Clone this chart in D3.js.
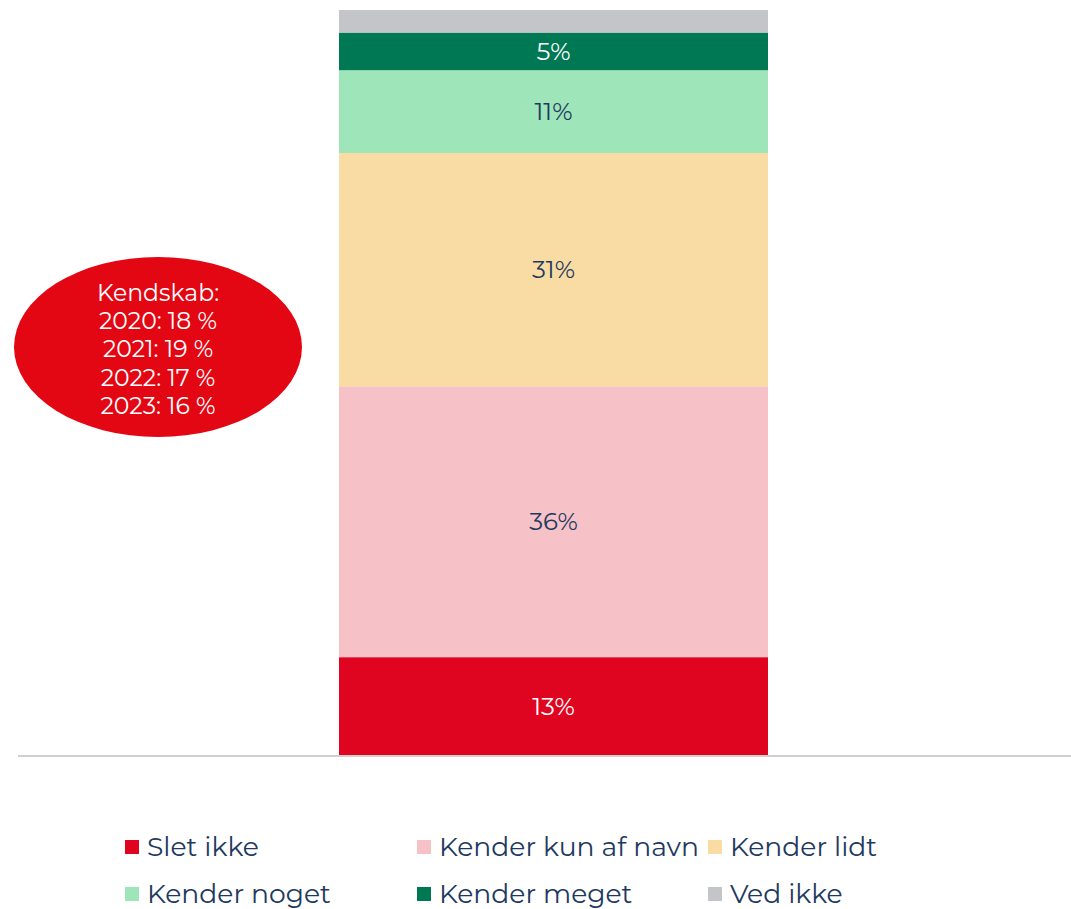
<!DOCTYPE html>
<meta charset="utf-8"/>
<title>Kendskab</title>
<style>
    body { margin: 0; background: #fff; }
    text { font-family: "Montserrat", "Noto Sans", sans-serif; }
</style>
<script src="https://cdn.jsdelivr.net/npm/d3@7"></script>
<svg id="chart" width="1071" height="909"></svg>
<script>
"use strict";

// data
const categories = ["Slet ikke", "Kender kun af navn", "Kender lidt", "Kender noget", "Kender meget", "Ved ikke"];
const values = [13, 36, 31, 11, 5, 3];
const colors = ["#df0521", "#f6c1c7", "#f9dca3", "#9ee5ba", "#007853", "#c4c5c9"];
const labelColors = ["#ffffff", "#1d3a5e", "#1d3a5e", "#1d3a5e", "#ffffff", "#1d3a5e"];
const showLabel = [true, true, true, true, true, false];
const noteLines = ["Kendskab:", "2020: 18 %", "2021: 19 %", "2022: 17 %", "2023: 16 %"];

const svg = d3.select("#chart");

const total = d3.sum(values);
const y = d3.scaleLinear().domain([0, total]).range([755, 10]);
const x = d3.scaleBand().domain(["bar"]).range([339, 768]).padding(0);

// stack the segments
const stacked = [];
let acc = 0;
values.forEach(function (v, i) {
    stacked.push({ name: categories[i], y0: acc, y1: acc + v, value: v, i: i });
    acc += v;
});

svg.append("g").selectAll("rect")
    .data(stacked)
    .join("rect")
    .attr("x", x("bar"))
    .attr("width", x.bandwidth())
    .attr("y", d => y(d.y1))
    .attr("height", d => y(d.y0) - y(d.y1))
    .attr("fill", d => colors[d.i]);

svg.append("g").selectAll("text")
    .data(stacked.filter(d => showLabel[d.i]))
    .join("text")
    .attr("x", x("bar") + x.bandwidth() / 2)
    .attr("y", d => (y(d.y0) + y(d.y1)) / 2)
    .attr("dy", "0.35em")
    .attr("text-anchor", "middle")
    .attr("font-size", 24.5)
    .attr("fill", d => labelColors[d.i])
    .text(d => d.value + "%");

// baseline
svg.append("line")
    .attr("x1", 18).attr("x2", 1071)
    .attr("y1", y(0) + 1).attr("y2", y(0) + 1)
    .attr("stroke", "#d0d0d0")
    .attr("stroke-width", 2);

// red note bubble
const note = svg.append("g").attr("transform", "translate(158,347)");
note.append("ellipse")
    .attr("rx", 144).attr("ry", 90)
    .attr("fill", "#e30613");
note.selectAll("text")
    .data(noteLines)
    .join("text")
    .attr("x", 0)
    .attr("y", (d, i) => (i - 2) * 28.3 + 2)
    .attr("dy", "0.35em")
    .attr("text-anchor", "middle")
    .attr("font-size", 23.5)
    .attr("fill", "#fff")
    .text(d => d);

// legend, three columns
const colX = [125, 417, 708];
const rowY = [847, 894];
const legend = svg.append("g").selectAll("g")
    .data(categories)
    .join("g")
    .attr("transform", (d, i) => "translate(" + colX[i % 3] + "," + rowY[Math.floor(i / 3)] + ")");
legend.append("rect")
    .attr("x", 0).attr("y", -7)
    .attr("width", 14).attr("height", 14)
    .attr("fill", (d, i) => colors[i]);
legend.append("text")
    .attr("x", 22)
    .attr("dy", "0.35em")
    .attr("font-size", 26.6)
    .attr("fill", "#1d3a5e")
    .text(d => d);
</script>
